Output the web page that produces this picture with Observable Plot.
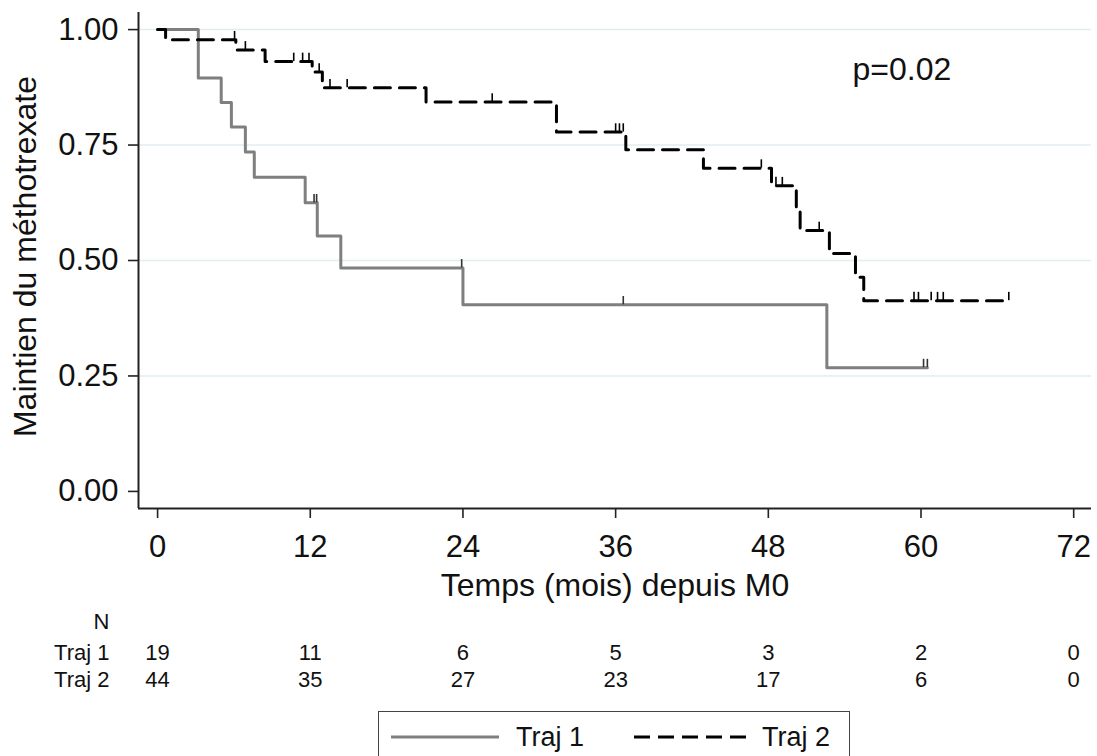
<!DOCTYPE html>
<html><head><meta charset="utf-8">
<script src="https://cdn.jsdelivr.net/npm/d3@7"></script>
<script src="https://cdn.jsdelivr.net/npm/@observablehq/plot@0.6"></script>
<style>
body{margin:0;background:#fff;font-family:"Liberation Sans",Arial,sans-serif;}
#wrap{position:relative;width:1097px;height:756px;overflow:hidden;background:#fff;}
#legend{position:absolute;left:378px;top:711px;width:472px;height:70px;border:1.5px solid #444;background:#fff;box-sizing:border-box;}
#legend .item{position:absolute;top:10px;font-size:27px;color:#111;}
</style></head><body><div id="wrap"></div>
<script>
// Axis ticks
const xTicks = [0, 12, 24, 36, 48, 60, 72];
const yTicks = [0, 0.25, 0.5, 0.75, 1];
const gridTicks = [0.25, 0.5, 0.75, 1];

// Traj 1 Kaplan-Meier steps (months, survival)
const traj1Time = [0, 3.2, 5.0, 5.8, 6.9, 7.6, 11.6, 12.55, 14.4, 24.0, 52.6, 60.5];
const traj1Surv = [1, 0.895, 0.842, 0.789, 0.735, 0.68, 0.625, 0.553, 0.484, 0.404, 0.268, 0.268];
// Traj 1 censored
const traj1CensTime = [12.3, 12.5, 23.9, 36.6, 60.2, 60.5];
const traj1CensSurv = [0.625, 0.625, 0.484, 0.404, 0.268, 0.268];

// Traj 2 Kaplan-Meier steps
const traj2Time = [0, 0.63, 6.15, 8.45, 12.15, 12.95, 21.1, 31.35, 36.8, 42.9, 48.25, 50.2, 50.5, 52.8, 54.85, 55.5, 66.9];
const traj2Surv = [1, 0.978, 0.956, 0.931, 0.908, 0.874, 0.843, 0.778, 0.740, 0.700, 0.662, 0.614, 0.565, 0.515, 0.464, 0.413, 0.413];
// Traj 2 censored
const traj2CensTime = [6.05, 6.9, 10.7, 11.4, 11.9, 12.7, 13.55, 14.9, 26.3, 36.0, 36.3, 36.6, 47.45, 48.6, 49.1, 52.0, 59.45, 59.8, 60.8, 61.3, 61.75, 66.9];
const traj2CensSurv = [0.978, 0.956, 0.931, 0.931, 0.931, 0.908, 0.874, 0.874, 0.843, 0.778, 0.778, 0.778, 0.700, 0.662, 0.662, 0.565, 0.413, 0.413, 0.413, 0.413, 0.413, 0.413];

// Number at risk
const riskTimes = [0, 12, 24, 36, 48, 60, 72];
const traj1Risk = [19, 11, 6, 5, 3, 2, 0];
const traj2Risk = [44, 35, 27, 23, 17, 6, 0];

const xLabel = "Temps (mois) depuis M0";
const yLabel = "Maintien du méthotrexate";
const pText = "p=0.02";

const xDomain = [-1.5, 73.4];
const yDomain = [-0.037, 1.037];

const zip = (t, s) => t.map((v, i) => ({t: v, s: s[i]}));
const traj1 = zip(traj1Time, traj1Surv);
const traj2 = zip(traj2Time, traj2Surv);
const cens1 = zip(traj1CensTime, traj1CensSurv);
const cens2 = zip(traj2CensTime, traj2CensSurv);
const risk = riskTimes.map((t, i) => ({t, r1: traj1Risk[i], r2: traj2Risk[i]}));

const FONT = "'Liberation Sans', Arial, sans-serif";

const chart = Plot.plot({
  width: 1097,
  height: 706,
  marginLeft: 138,
  marginRight: 6,
  marginTop: 12,
  marginBottom: 198,
  style: {fontFamily: FONT, background: "#fff", color: "#111"},
  x: {domain: xDomain},
  y: {domain: yDomain},
  marks: [
    Plot.ruleY(gridTicks, {stroke: "#e3edf0", strokeWidth: 1.5}),
    Plot.ruleX([xDomain[0]], {stroke: "#222", strokeWidth: 2}),
    Plot.ruleY([yDomain[0]], {stroke: "#222", strokeWidth: 2}),
    Plot.axisX({ticks: xTicks, tickSize: 10, tickPadding: 16, fontSize: 31, label: null, stroke: "#222", strokeWidth: 1.6}),
    Plot.axisY({ticks: yTicks, tickSize: 10, tickPadding: 10, fontSize: 31, label: null, tickFormat: d3.format(".2f"), stroke: "#222", strokeWidth: 1.6}),
    Plot.line(traj1, {x: "t", y: "s", curve: "step-after", stroke: "#7f7f7f", strokeWidth: 3}),
    Plot.line(traj2, {x: "t", y: "s", curve: "step-after", stroke: "#000", strokeWidth: 3, strokeDasharray: "16,9"}),
    Plot.ruleX(cens1, {x: "t", y1: "s", y2: d => d.s + 0.018, stroke: "#333", strokeWidth: 1.6}),
    Plot.ruleX(cens2, {x: "t", y1: "s", y2: d => d.s + 0.018, stroke: "#000", strokeWidth: 1.6}),
    Plot.text([pText], {frameAnchor: "top-right", dx: -239, dy: 45, textAnchor: "start", fontSize: 32, fill: "#111"}),
    Plot.text([xLabel], {frameAnchor: "bottom", dy: 87, fontSize: 32, fill: "#111"}),
    Plot.text([yLabel], {frameAnchor: "left", rotate: -90, dx: -113, dy: -4, textAnchor: "middle", fontSize: 32, fill: "#111"}),
    Plot.text(["N"], {frameAnchor: "bottom-left", dx: -29, dy: 120, textAnchor: "end", fontSize: 22, fill: "#111"}),
    Plot.text(["Traj 1"], {frameAnchor: "bottom-left", dx: -29, dy: 151, textAnchor: "end", fontSize: 22, fill: "#111"}),
    Plot.text(["Traj 2"], {frameAnchor: "bottom-left", dx: -29, dy: 178, textAnchor: "end", fontSize: 22, fill: "#111"}),
    Plot.text(risk, {x: "t", text: "r1", frameAnchor: "bottom", dy: 151, fontSize: 22, fill: "#111"}),
    Plot.text(risk, {x: "t", text: "r2", frameAnchor: "bottom", dy: 178, fontSize: 22, fill: "#111"})
  ]
});

const wrap = document.getElementById("wrap");
wrap.appendChild(chart);

const legend = document.createElement("div");
legend.id = "legend";
legend.innerHTML = `
  <svg style="position:absolute;left:12px;top:20px" width="110" height="10"><line x1="0" y1="5" x2="108" y2="5" stroke="#7f7f7f" stroke-width="3"/></svg>
  <div class="item" style="left:137px">Traj 1</div>
  <svg style="position:absolute;left:255px;top:20px" width="114" height="10"><line x1="0" y1="5" x2="112" y2="5" stroke="#000" stroke-width="3" stroke-dasharray="16,8"/></svg>
  <div class="item" style="left:383px">Traj 2</div>`;
wrap.appendChild(legend);
</script>
</body></html>
